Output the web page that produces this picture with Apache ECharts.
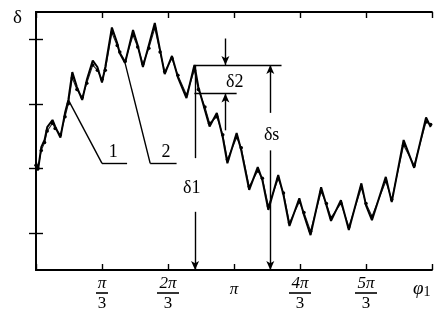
<!DOCTYPE html>
<html><head><meta charset="utf-8">
<script src="https://cdn.jsdelivr.net/npm/echarts@6/dist/echarts.min.js"></script>
<style>html,body{margin:0;padding:0;background:#fff}#c{width:435px;height:324px}</style>
</head><body><div id="c"></div>
<script>
// x in units of pi/3
const xVals = [0.00,0.03,0.08,0.13,0.17,0.25,0.29,0.37,0.44,0.49,0.55,0.62,0.70,0.77,0.86,0.93,1.00,1.05,1.15,1.23,1.27,1.35,1.47,1.54,1.62,1.71,1.80,1.88,1.95,2.06,2.15,2.28,2.40,2.46,2.56,2.63,2.74,2.83,2.90,3.04,3.11,3.23,3.36,3.43,3.52,3.67,3.75,3.84,3.99,4.06,4.16,4.32,4.40,4.47,4.62,4.74,4.93,5.00,5.09,5.30,5.39,5.57,5.73,5.91,5.98];
const curve2 = [2.10,1.97,2.33,2.44,2.64,2.75,2.65,2.48,2.86,3.06,3.49,3.26,3.06,3.37,3.67,3.57,3.33,3.57,4.18,3.94,3.78,3.63,4.14,3.91,3.57,3.91,4.25,3.83,3.46,3.74,3.41,3.09,3.60,3.26,2.90,2.65,2.86,2.48,2.08,2.55,2.28,1.67,2.02,1.82,1.36,1.90,1.59,1.11,1.54,1.28,0.97,1.71,1.43,1.19,1.51,1.05,1.77,1.43,1.20,1.87,1.48,2.44,2.01,2.79,2.64];
const curve1 = [2.05,2.00,2.28,2.40,2.58,2.70,2.62,2.52,2.80,3.00,3.40,3.22,3.10,3.32,3.60,3.52,3.38,3.52,4.10,3.90,3.80,3.66,4.06,3.88,3.62,3.86,4.17,3.80,3.50,3.70,3.44,3.14,3.52,3.22,2.95,2.70,2.80,2.52,2.14,2.48,2.32,1.72,1.96,1.85,1.42,1.84,1.62,1.16,1.48,1.32,1.03,1.64,1.46,1.24,1.46,1.10,1.70,1.46,1.26,1.80,1.52,2.36,2.05,2.72,2.68];
const xTickValues = [1,2,3,4,5];
const xTickLabels = ['π/3','2π/3','π','4π/3','5π/3'];
const yTickValues = [1,2,3,4];
const xMin = 0, xMax = 6, yMin = 0.43, yMax = 4.42;

// annotation geometry (data units)
const lvlTop = 3.60, lvlLow = 3.16;
const xD1 = 2.41, xD2 = 2.87, xDs = 3.55;
const annotSegments = [
  [[2.40, lvlTop],[3.72, lvlTop], false],
  [[2.40, lvlLow],[3.04, lvlLow], false],
  [[xD1, lvlTop],[xD1, 2.16], false],
  [[xD1, 1.33],[xD1, yMin], true],
  [[xD2, 4.01],[xD2, lvlTop], true],
  [[xD2, 2.59],[xD2, lvlLow], true],
  [[xDs, 2.86],[xDs, lvlTop], true],
  [[xDs, 2.28],[xDs, yMin], true],
  [[0.49, 3.06],[1.00, 2.08], false],
  [[1.00, 2.08],[1.38, 2.08], false],
  [[1.35, 3.63],[1.73, 2.08], false],
  [[1.73, 2.08],[2.13, 2.08], false]
];
const annotLabels = [
  {name:'1', value:[1.17, 2.25]},
  {name:'2', value:[1.97, 2.25]},
  {name:'δ1', value:[2.36, 1.70]},
  {name:'δ2', value:[3.01, 3.34]},
  {name:'δs', value:[3.57, 2.52]}
];

const serif = '"Liberation Serif","DejaVu Serif",serif';
function fmt(val){
  const i = xTickValues.indexOf(val);
  if (i < 0) return '';
  const lab = xTickLabels[i];
  if (lab.indexOf('/') >= 0) {
    const p = lab.split('/');
    const b = p[0].length > 1 ? 'bw' : 'bn';
    return '{n|' + p[0] + '}\n{' + b + '| }\n{d|' + p[1] + '}';
  }
  return '{s|' + lab + '}';
}

const chart = echarts.init(document.getElementById('c'), null, {renderer:'canvas'});
const axisLine = {lineStyle:{color:'#000', width:1.8}};
chart.setOption({
  backgroundColor:'#fff',
  animation:false,
  grid:{left:36, right:3, top:12, bottom:54},
  xAxis:[
    {type:'value', min:xMin, max:xMax, interval:1, position:'bottom',
     axisLine:axisLine, splitLine:{show:false},
     axisTick:{inside:true, length:6, lineStyle:{color:'#000', width:1.4}},
     axisLabel:{margin:6, formatter:fmt, verticalAlign:'top', color:'#000',
       rich:{
         n:{fontFamily:serif, fontStyle:'italic', fontSize:17, lineHeight:15, color:'#000', align:'center'},
         d:{fontFamily:serif, fontSize:17, lineHeight:17, color:'#000', align:'center'},
         s:{fontFamily:serif, fontStyle:'italic', fontSize:17, lineHeight:28, color:'#000'},
         bn:{width:12, height:1.6, backgroundColor:'#000', lineHeight:4, fontSize:1},
         bw:{width:22, height:1.6, backgroundColor:'#000', lineHeight:4, fontSize:1}
       }}},
    {type:'value', min:xMin, max:xMax, interval:1, position:'top',
     axisLine:axisLine, splitLine:{show:false},
     axisTick:{inside:true, length:6, lineStyle:{color:'#000', width:1.4}},
     axisLabel:{show:false}}
  ],
  yAxis:[
    {type:'value', min:yMin, max:yMax, position:'left',
     axisLine:axisLine, splitLine:{show:false},
     axisTick:{inside:true, length:7, customValues:yTickValues, lineStyle:{color:'#000', width:1.4}},
     axisLabel:{show:false}},
    {type:'value', min:yMin, max:yMax, position:'right',
     axisLine:axisLine, splitLine:{show:false},
     axisTick:{inside:true, length:7, customValues:yTickValues, lineStyle:{color:'#000', width:1.4}},
     axisLabel:{show:false}}
  ],
  graphic:[
    {type:'text', left:13, top:9, style:{text:'δ', font:'19px '+serif, fill:'#000'}},
    {type:'text', left:413, top:279, style:{text:'{p|φ}{s|1}', rich:{
       p:{fontFamily:serif, fontStyle:'italic', fontSize:19, color:'#000'},
       s:{fontFamily:serif, fontSize:14, color:'#000', padding:[8,0,0,0]}}}}
  ],
  series:[
    {name:'1', type:'line', data:xVals.map((x,i)=>[x,curve1[i]]),
     symbol:'circle', symbolSize:3.5, showSymbol:true,
     itemStyle:{color:'#000'}, lineStyle:{color:'#222', width:1.1}, z:3},
    {name:'2', type:'line', data:xVals.map((x,i)=>[x,curve2[i]]),
     symbol:'none', lineStyle:{color:'#000', width:2}, z:4,
     markLine:{silent:true, animation:false, symbol:['none','none'],
       label:{show:false}, lineStyle:{color:'#000', width:1.4, type:'solid'},
       data: annotSegments.map(s=>[
         {coord:s[0], symbol:'none'},
         {coord:s[1], symbol:s[2]?'arrow':'none', symbolSize:[6,9]}
       ])}},
    {name:'labels', type:'scatter', data:annotLabels, symbolSize:1,
     itemStyle:{color:'rgba(0,0,0,0)', opacity:1},
     label:{show:true, position:'inside', formatter:p=>p.name, opacity:1,
       textBorderWidth:0, fontFamily:serif, fontSize:18, color:'#000'}, z:5}
  ]
});
</script></body></html>
